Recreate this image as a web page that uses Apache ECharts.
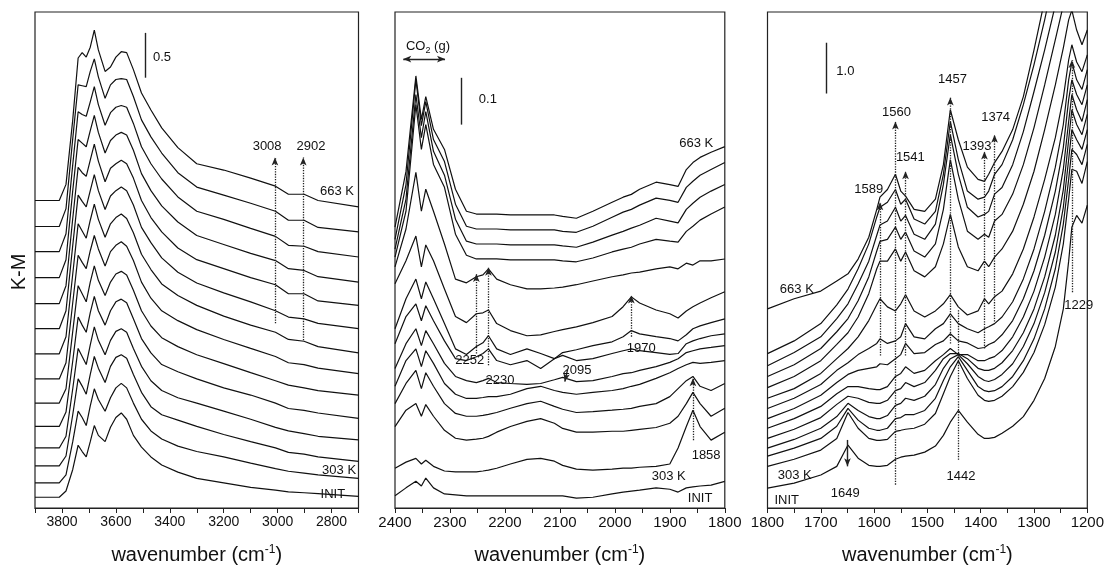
<!DOCTYPE html>
<html>
<head>
<meta charset="utf-8">
<script src="https://cdn.jsdelivr.net/npm/echarts@6/dist/echarts.min.js"></script>
<style>
  html, body { margin: 0; background: #fff; }
  #chart { width: 1107px; height: 570px; }
</style>
</head>
<body>
<div id="chart"></div>
<script>
// spectra run from the initial sample (INIT) up to 663 K
const TEMPS = ['INIT', '303 K', '333 K', '363 K', '393 K', '423 K', '453 K', '483 K', '513 K', '543 K', '573 K', '603 K', '633 K', '663 K'];

// ---- O-H region, K-M values ----
const WN_OH = [3900, 3810, 3785, 3760, 3740, 3725, 3710, 3695, 3680, 3665, 3640, 3620, 3600, 3580, 3560, 3535, 3505, 3470, 3430, 3370, 3300, 3200, 3100, 3008, 2960, 2902, 2850, 2700];
const KM_OH = [
  [0.12, 0.12, 0.19, 0.43, 0.70, 0.63, 0.57, 0.74, 0.92, 0.81, 0.74, 0.90, 1.01, 1.06, 0.99, 0.81, 0.68, 0.57, 0.48, 0.40, 0.33, 0.28, 0.23, 0.20, 0.18, 0.17, 0.16, 0.13],
  [0.28, 0.28, 0.37, 0.74, 1.08, 1.01, 0.92, 1.14, 1.33, 1.21, 1.08, 1.23, 1.34, 1.39, 1.34, 1.17, 0.99, 0.86, 0.77, 0.69, 0.63, 0.57, 0.50, 0.44, 0.41, 0.39, 0.37, 0.33],
  [0.47, 0.47, 0.58, 1.04, 1.44, 1.36, 1.27, 1.49, 1.69, 1.56, 1.40, 1.58, 1.68, 1.71, 1.67, 1.49, 1.29, 1.13, 1.04, 0.98, 0.91, 0.82, 0.74, 0.67, 0.62, 0.60, 0.57, 0.52],
  [0.67, 0.67, 0.80, 1.33, 1.78, 1.69, 1.60, 1.82, 2.02, 1.87, 1.71, 1.87, 1.97, 2.00, 1.96, 1.78, 1.58, 1.42, 1.31, 1.23, 1.17, 1.08, 0.99, 0.90, 0.86, 0.83, 0.80, 0.76],
  [0.91, 0.91, 1.07, 1.64, 2.13, 2.04, 1.96, 2.18, 2.36, 2.20, 2.04, 2.20, 2.30, 2.33, 2.29, 2.11, 1.89, 1.73, 1.60, 1.52, 1.44, 1.34, 1.26, 1.17, 1.11, 1.09, 1.06, 1.00],
  [1.17, 1.17, 1.33, 1.97, 2.48, 2.39, 2.30, 2.52, 2.70, 2.54, 2.37, 2.52, 2.61, 2.64, 2.60, 2.43, 2.20, 2.03, 1.90, 1.80, 1.71, 1.61, 1.51, 1.42, 1.37, 1.34, 1.31, 1.26],
  [1.44, 1.44, 1.62, 2.29, 2.82, 2.74, 2.67, 2.87, 3.04, 2.89, 2.70, 2.86, 2.93, 2.97, 2.92, 2.76, 2.52, 2.34, 2.20, 2.09, 1.99, 1.88, 1.78, 1.69, 1.62, 1.60, 1.56, 1.50],
  [1.72, 1.72, 1.91, 2.61, 3.17, 3.09, 3.01, 3.21, 3.39, 3.22, 3.02, 3.17, 3.24, 3.28, 3.23, 3.07, 2.83, 2.66, 2.50, 2.37, 2.26, 2.14, 2.04, 1.96, 1.88, 1.86, 1.80, 1.73],
  [2.00, 2.00, 2.20, 2.93, 3.49, 3.42, 3.36, 3.54, 3.72, 3.54, 3.33, 3.48, 3.54, 3.58, 3.54, 3.38, 3.13, 2.96, 2.79, 2.63, 2.51, 2.40, 2.30, 2.20, 2.13, 2.11, 2.06, 2.00],
  [2.28, 2.28, 2.48, 3.23, 3.80, 3.74, 3.70, 3.88, 4.06, 3.87, 3.64, 3.79, 3.84, 3.88, 3.84, 3.68, 3.43, 3.24, 3.08, 2.90, 2.77, 2.67, 2.57, 2.49, 2.39, 2.39, 2.31, 2.26],
  [2.57, 2.57, 2.77, 3.54, 4.11, 4.07, 4.03, 4.21, 4.38, 4.19, 3.96, 4.10, 4.16, 4.19, 4.16, 3.99, 3.73, 3.54, 3.37, 3.19, 3.04, 2.94, 2.84, 2.76, 2.67, 2.65, 2.58, 2.52],
  [2.86, 2.86, 3.06, 3.83, 4.42, 4.39, 4.37, 4.53, 4.70, 4.50, 4.27, 4.41, 4.47, 4.49, 4.47, 4.29, 4.03, 3.84, 3.67, 3.47, 3.31, 3.22, 3.12, 3.03, 2.93, 2.92, 2.86, 2.80],
  [3.14, 3.14, 3.34, 4.12, 4.72, 4.71, 4.70, 4.87, 5.01, 4.81, 4.57, 4.72, 4.78, 4.79, 4.78, 4.59, 4.33, 4.14, 3.96, 3.74, 3.58, 3.49, 3.40, 3.31, 3.21, 3.21, 3.13, 3.08],
  [3.43, 3.43, 3.61, 4.33, 5.02, 5.08, 5.03, 5.14, 5.33, 5.11, 4.87, 4.92, 5.03, 5.09, 5.08, 4.89, 4.63, 4.44, 4.24, 4.02, 3.84, 3.77, 3.68, 3.59, 3.50, 3.50, 3.43, 3.36]
];

// ---- CO2 / carbonyl region ----
const WN_CO = [2400, 2380, 2362, 2352, 2344, 2330, 2310, 2290, 2270, 2252, 2240, 2230, 2215, 2190, 2160, 2135, 2110, 2095, 2070, 2040, 2005, 1985, 1970, 1955, 1925, 1900, 1885, 1870, 1858, 1845, 1825, 1800];
const KM_CO = [
  [0.026, 0.043, 0.057, 0.047, 0.064, 0.043, 0.030, 0.028, 0.026, 0.026, 0.026, 0.026, 0.026, 0.026, 0.026, 0.026, 0.026, 0.026, 0.021, 0.023, 0.030, 0.034, 0.036, 0.038, 0.043, 0.040, 0.034, 0.043, 0.045, 0.047, 0.049, 0.057],
  [0.085, 0.098, 0.106, 0.094, 0.102, 0.089, 0.079, 0.077, 0.077, 0.077, 0.079, 0.081, 0.085, 0.094, 0.104, 0.106, 0.100, 0.091, 0.083, 0.081, 0.083, 0.085, 0.085, 0.087, 0.089, 0.094, 0.128, 0.174, 0.209, 0.174, 0.145, 0.162],
  [0.174, 0.209, 0.223, 0.196, 0.221, 0.196, 0.166, 0.149, 0.145, 0.147, 0.149, 0.153, 0.162, 0.174, 0.185, 0.191, 0.181, 0.170, 0.162, 0.162, 0.164, 0.164, 0.166, 0.168, 0.172, 0.181, 0.196, 0.223, 0.247, 0.223, 0.196, 0.213],
  [0.223, 0.266, 0.294, 0.255, 0.289, 0.260, 0.223, 0.202, 0.196, 0.196, 0.198, 0.200, 0.204, 0.213, 0.223, 0.228, 0.217, 0.211, 0.204, 0.206, 0.209, 0.211, 0.213, 0.217, 0.223, 0.238, 0.255, 0.272, 0.281, 0.260, 0.251, 0.266],
  [0.260, 0.315, 0.340, 0.302, 0.336, 0.309, 0.266, 0.243, 0.234, 0.234, 0.236, 0.238, 0.238, 0.243, 0.255, 0.260, 0.251, 0.247, 0.243, 0.247, 0.251, 0.255, 0.260, 0.264, 0.277, 0.289, 0.298, 0.306, 0.311, 0.309, 0.311, 0.315],
  [0.298, 0.351, 0.383, 0.347, 0.379, 0.351, 0.309, 0.281, 0.272, 0.268, 0.272, 0.277, 0.268, 0.266, 0.264, 0.266, 0.274, 0.279, 0.270, 0.272, 0.281, 0.287, 0.289, 0.294, 0.302, 0.311, 0.319, 0.332, 0.336, 0.340, 0.343, 0.347],
  [0.351, 0.409, 0.436, 0.400, 0.432, 0.400, 0.357, 0.319, 0.315, 0.323, 0.330, 0.340, 0.315, 0.306, 0.315, 0.298, 0.319, 0.326, 0.315, 0.319, 0.330, 0.336, 0.340, 0.336, 0.332, 0.328, 0.330, 0.351, 0.357, 0.362, 0.368, 0.372],
  [0.383, 0.447, 0.489, 0.447, 0.483, 0.447, 0.394, 0.340, 0.328, 0.345, 0.353, 0.368, 0.340, 0.328, 0.340, 0.330, 0.319, 0.332, 0.338, 0.347, 0.355, 0.366, 0.379, 0.372, 0.366, 0.362, 0.357, 0.370, 0.383, 0.389, 0.396, 0.404],
  [0.479, 0.528, 0.581, 0.515, 0.562, 0.528, 0.468, 0.409, 0.396, 0.415, 0.417, 0.423, 0.394, 0.379, 0.368, 0.370, 0.377, 0.381, 0.387, 0.396, 0.409, 0.430, 0.451, 0.438, 0.423, 0.415, 0.406, 0.421, 0.430, 0.438, 0.449, 0.462],
  [0.515, 0.596, 0.717, 0.634, 0.681, 0.634, 0.564, 0.489, 0.481, 0.494, 0.498, 0.511, 0.489, 0.477, 0.468, 0.468, 0.470, 0.472, 0.477, 0.485, 0.494, 0.498, 0.502, 0.504, 0.511, 0.515, 0.511, 0.523, 0.519, 0.528, 0.528, 0.532],
  [0.536, 0.634, 0.862, 0.766, 0.819, 0.734, 0.685, 0.585, 0.540, 0.532, 0.532, 0.532, 0.532, 0.530, 0.530, 0.530, 0.530, 0.528, 0.526, 0.534, 0.547, 0.553, 0.557, 0.564, 0.574, 0.570, 0.568, 0.591, 0.602, 0.615, 0.628, 0.643],
  [0.553, 0.660, 0.883, 0.791, 0.847, 0.762, 0.711, 0.617, 0.570, 0.564, 0.564, 0.564, 0.564, 0.562, 0.562, 0.562, 0.562, 0.560, 0.557, 0.568, 0.583, 0.591, 0.598, 0.604, 0.619, 0.613, 0.609, 0.638, 0.651, 0.664, 0.677, 0.691],
  [0.574, 0.691, 0.915, 0.817, 0.868, 0.787, 0.740, 0.649, 0.602, 0.596, 0.596, 0.596, 0.596, 0.594, 0.594, 0.594, 0.594, 0.591, 0.589, 0.602, 0.621, 0.632, 0.638, 0.647, 0.662, 0.657, 0.653, 0.685, 0.698, 0.711, 0.723, 0.738],
  [0.600, 0.719, 0.923, 0.830, 0.879, 0.809, 0.766, 0.681, 0.634, 0.628, 0.628, 0.628, 0.628, 0.626, 0.626, 0.626, 0.626, 0.623, 0.619, 0.634, 0.653, 0.664, 0.670, 0.681, 0.696, 0.691, 0.687, 0.723, 0.738, 0.749, 0.760, 0.772]
];

// ---- carbonate / carboxylate region ----
const WN_CB = [1800, 1750, 1700, 1670, 1649, 1630, 1610, 1595, 1589, 1575, 1560, 1550, 1541, 1525, 1505, 1485, 1470, 1457, 1442, 1425, 1405, 1393, 1385, 1374, 1360, 1340, 1320, 1300, 1280, 1260, 1245, 1235, 1229, 1220, 1210, 1200];
const KM_CB = [
  [0.39, 0.49, 0.65, 0.82, 1.24, 0.98, 0.84, 0.82, 0.82, 0.84, 0.96, 1.00, 1.02, 1.04, 1.10, 1.22, 1.43, 1.69, 1.92, 1.69, 1.45, 1.37, 1.37, 1.39, 1.47, 1.61, 1.80, 2.12, 2.55, 3.18, 3.92, 4.86, 5.53, 5.76, 5.61, 5.96],
  [0.82, 0.96, 1.14, 1.37, 1.88, 1.57, 1.37, 1.33, 1.33, 1.35, 1.51, 1.53, 1.55, 1.57, 1.65, 1.86, 2.25, 2.59, 2.90, 2.55, 2.22, 2.12, 2.10, 2.12, 2.20, 2.39, 2.67, 3.06, 3.61, 4.35, 5.20, 6.08, 6.67, 6.63, 6.39, 6.82],
  [1.02, 1.18, 1.37, 1.61, 1.96, 1.73, 1.57, 1.53, 1.53, 1.57, 1.76, 1.78, 1.84, 1.84, 1.92, 2.16, 2.51, 2.78, 2.98, 2.71, 2.39, 2.31, 2.29, 2.31, 2.39, 2.59, 2.90, 3.33, 3.92, 4.71, 5.59, 6.47, 7.06, 6.96, 6.76, 7.16],
  [1.18, 1.35, 1.57, 1.80, 2.06, 1.92, 1.80, 1.76, 1.76, 1.82, 2.02, 2.06, 2.16, 2.12, 2.20, 2.43, 2.75, 2.94, 3.02, 2.84, 2.59, 2.51, 2.49, 2.53, 2.63, 2.84, 3.18, 3.63, 4.24, 5.04, 5.92, 6.86, 7.45, 7.25, 7.06, 7.45],
  [1.37, 1.55, 1.78, 2.04, 2.20, 2.16, 2.08, 2.06, 2.06, 2.12, 2.31, 2.35, 2.47, 2.39, 2.47, 2.71, 2.94, 3.04, 3.04, 2.94, 2.75, 2.71, 2.71, 2.75, 2.86, 3.10, 3.45, 3.92, 4.55, 5.37, 6.27, 7.25, 7.84, 7.55, 7.35, 7.75],
  [1.57, 1.76, 2.00, 2.25, 2.39, 2.39, 2.35, 2.33, 2.33, 2.39, 2.59, 2.65, 2.78, 2.65, 2.71, 2.90, 3.02, 3.14, 3.02, 3.02, 2.90, 2.90, 2.94, 2.98, 3.10, 3.37, 3.76, 4.27, 4.94, 5.78, 6.67, 7.61, 8.14, 7.84, 7.61, 8.04],
  [1.76, 1.96, 2.22, 2.47, 2.63, 2.71, 2.75, 2.78, 2.84, 2.82, 2.94, 3.02, 3.24, 3.04, 3.06, 3.22, 3.29, 3.43, 3.29, 3.25, 3.14, 3.16, 3.22, 3.27, 3.41, 3.69, 4.12, 4.67, 5.37, 6.24, 7.10, 8.04, 8.43, 8.14, 7.94, 8.33],
  [1.96, 2.16, 2.43, 2.71, 2.86, 3.02, 3.14, 3.24, 3.33, 3.24, 3.29, 3.37, 3.63, 3.37, 3.33, 3.53, 3.63, 3.82, 3.63, 3.53, 3.45, 3.53, 3.57, 3.63, 3.76, 4.06, 4.51, 5.10, 5.84, 6.71, 7.55, 8.43, 8.78, 8.43, 8.24, 8.63],
  [2.16, 2.35, 2.65, 2.94, 3.14, 3.37, 3.69, 4.00, 4.12, 3.96, 3.88, 4.02, 4.20, 3.88, 3.76, 3.88, 4.02, 4.20, 3.96, 3.80, 3.88, 4.12, 4.02, 4.16, 4.27, 4.61, 5.10, 5.73, 6.47, 7.29, 8.08, 8.82, 9.12, 8.78, 8.59, 8.92],
  [2.37, 2.59, 2.90, 3.22, 3.45, 3.76, 4.22, 4.71, 4.86, 4.86, 5.10, 4.86, 5.04, 4.67, 4.55, 4.75, 5.20, 5.78, 5.14, 4.75, 4.67, 4.86, 4.75, 4.94, 5.10, 5.45, 5.98, 6.63, 7.45, 8.33, 9.06, 9.61, 9.80, 9.41, 9.12, 9.41],
  [2.59, 2.82, 3.14, 3.47, 3.73, 4.08, 4.55, 5.06, 5.25, 5.29, 5.53, 5.29, 5.43, 5.06, 4.94, 5.20, 5.88, 6.86, 6.08, 5.45, 5.29, 5.39, 5.33, 5.65, 5.78, 6.18, 6.76, 7.49, 8.33, 9.22, 9.90, 10.39, 10.59, 10.20, 9.90, 10.10],
  [2.80, 3.06, 3.37, 3.73, 4.02, 4.41, 4.86, 5.37, 5.57, 5.65, 5.92, 5.65, 5.76, 5.39, 5.29, 5.59, 6.37, 7.35, 6.57, 5.92, 5.73, 5.78, 5.84, 6.18, 6.31, 6.76, 7.41, 8.20, 9.02, 9.90, 10.59, 10.98, 11.18, 10.98, 10.78, 10.98],
  [3.04, 3.29, 3.63, 4.00, 4.31, 4.71, 5.20, 5.73, 5.92, 6.02, 6.27, 5.98, 6.08, 5.69, 5.59, 5.84, 6.57, 7.61, 6.86, 6.24, 6.08, 6.12, 6.24, 6.57, 6.76, 7.25, 7.94, 8.73, 9.61, 10.59, 11.18, 11.57, 11.76, 11.57, 11.37, 11.57],
  [3.92, 4.12, 4.27, 4.47, 4.61, 4.90, 5.33, 5.88, 6.12, 6.27, 6.57, 6.24, 6.14, 5.88, 5.84, 6.08, 6.76, 7.84, 7.25, 6.71, 6.47, 6.43, 6.57, 6.80, 7.02, 7.45, 8.10, 9.02, 10.00, 10.98, 11.57, 11.96, 12.16, 11.96, 11.76, 11.96]
];

// annotations: [text, wavenumber, K-M]
const NOTES_OH = [['3008', 3039, 4.03], ['2902', 2876, 4.03], ['663 K', 2780, 3.53], ['303 K', 2772, 0.42], ['INIT', 2795, 0.15], ['0.5', 3429, 5.03]];
const NOTES_CO = [['CO{s|2} (g)', 2340, 0.986], ['0.1', 2231, 0.872], ['663 K', 1852, 0.778], ['2252', 2264, 0.316], ['2230', 2209, 0.273], ['2095', 2069, 0.294], ['1970', 1952, 0.340], ['1858', 1834, 0.113], ['303 K', 1902, 0.068], ['INIT', 1845, 0.020]];
const NOTES_CB = [['1.0', 1654, 8.59], ['1457', 1453, 8.43], ['1560', 1558, 7.78], ['1541', 1532, 6.90], ['1589', 1610, 6.27], ['1393', 1407, 7.12], ['1374', 1372, 7.69], ['1229', 1216, 3.99], ['1442', 1437, 0.63], ['1649', 1654, 0.29], ['663 K', 1745, 4.31], ['303 K', 1749, 0.65], ['INIT', 1764, 0.14]];
// dotted band markers: [wavenumber, from, to] with arrow head at 'to'
const MARKS_OH = [[3010, 2.06, 3.91], [2905, 1.87, 3.91]];
const MARKS_CO = [[2252, 0.330, 0.500], [2230, 0.305, 0.513], [1970, 0.366, 0.454], [1858, 0.145, 0.277]];
const MARKS_CB = [[1560, 0.46, 7.61], [1541, 3.0, 6.63], [1589, 3.0, 6.02], [1457, 3.24, 8.08], [1393, 3.14, 7.02], [1374, 3.67, 7.35], [1229, 4.25, 8.82]];
// scale bars: [wavenumber, from, to]
const BARS = [[3492, 4.80, 5.30], [2280, 0.819, 0.919], [1690, 8.16, 9.16]];

const FONT = '"Liberation Sans", Arial, Helvetica, sans-serif';
const INK = '#111';

const chart = echarts.init(document.getElementById('chart'));

const grids = [
  { left: 35, top: 12, width: 323.5, height: 498 },
  { left: 395, top: 12, width: 329.8, height: 498 },
  { left: 767.5, top: 12, width: 323, height: 498 }
].map(g => ({ ...g, show: true, borderColor: '#222', borderWidth: 1.2 }));

function xAxis(i, min, max, step, labelStep, fontSize) {
  return {
    type: 'value', gridIndex: i, min, max, interval: step, inverse: true,
    name: 'wavenumber (cm{sup|-1})', nameLocation: 'middle', nameGap: 36,
    nameTextStyle: { fontSize: 20, color: INK, fontFamily: FONT, rich: { sup: { fontSize: 12, padding: [0, 0, 10, 0], color: INK, fontFamily: FONT } } },
    axisLine: { onZero: false, lineStyle: { color: '#222', width: 1.2 } },
    axisTick: { length: 5, lineStyle: { color: '#222' } },
    axisLabel: { fontSize, color: INK, fontFamily: FONT, margin: 7, showMinLabel: true, showMaxLabel: true,
      formatter: v => (v % labelStep === 0 ? String(v) : '') },
    splitLine: { show: false }
  };
}

function yAxis(i, max) {
  return {
    type: 'value', gridIndex: i, min: 0, max,
    name: i === 0 ? 'K-M' : '', nameLocation: 'middle', nameGap: 6, nameRotate: 90,
    nameTextStyle: { fontSize: 20, color: INK, fontFamily: FONT, padding: [0, 24, 0, 0] },
    axisLine: { show: false }, axisTick: { show: false }, axisLabel: { show: false }, splitLine: { show: false }
  };
}

const dotted = { type: 'dotted', width: 1.3, color: '#222' };
const solid = { type: 'solid', width: 1.4, color: '#222' };

function arrowLine(x, y1, y2, style, head) {
  return [
    { coord: [x, y1], symbol: 'none', lineStyle: style },
    { coord: [x, y2], symbol: head ? 'arrow' : 'none', symbolSize: [5, 8] }
  ];
}

function annotations(p, notes, marks, extraLines) {
  const lines = marks.map(m => arrowLine(m[0], m[1], m[2], dotted, true));
  const b = BARS[p];
  lines.push(arrowLine(b[0], b[1], b[2], solid, false));
  return {
    markLine: { silent: true, animation: false, symbol: 'none', label: { show: false }, data: lines.concat(extraLines) },
    markPoint: {
      silent: true, animation: false, symbol: 'circle', symbolSize: 0,
      itemStyle: { color: 'rgba(0,0,0,0)' },
      label: { show: true, position: 'inside', color: INK, fontSize: 13, fontFamily: FONT,
        rich: { s: { fontSize: 9, padding: [8, 0, 0, 0], color: INK, fontFamily: FONT } } },
      data: notes.map(n => ({ coord: [n[1], n[2]], value: 0, label: { formatter: n[0] } }))
    }
  };
}

const panels = [
  { wn: WN_OH, km: KM_OH, notes: NOTES_OH, marks: MARKS_OH, extra: [] },
  { wn: WN_CO, km: KM_CO, notes: NOTES_CO, marks: MARKS_CO, extra: [
      [{ coord: [2385, 0.959], symbol: 'arrow', symbolSize: [5, 8], lineStyle: solid }, { coord: [2309, 0.959], symbol: 'arrow', symbolSize: [5, 8] }],
      [{ coord: [2086, 0.296], symbol: 'none', lineStyle: solid }, { coord: [2091, 0.270], symbol: 'arrow', symbolSize: [5, 8] }]
    ] },
  { wn: WN_CB, km: KM_CB, notes: NOTES_CB, marks: MARKS_CB, extra: [
      arrowLine(1442, 0.95, 3.9, dotted, false),
      [{ coord: [1650, 1.34], symbol: 'none', lineStyle: solid }, { coord: [1650, 0.82], symbol: 'arrow', symbolSize: [5, 8] }]
    ] }
];

const series = [];
panels.forEach((pn, p) => {
  pn.km.forEach((row, i) => {
    const s = {
      type: 'line', name: TEMPS[i], xAxisIndex: p, yAxisIndex: p,
      data: pn.wn.map((w, k) => [w, row[k]]),
      symbol: 'none', silent: true, animation: false, clip: true,
      lineStyle: { color: INK, width: 1.2 }
    };
    if (i === 0) Object.assign(s, annotations(p, pn.notes, pn.marks, pn.extra));
    series.push(s);
  });
});

chart.setOption({
  backgroundColor: '#fff',
  animation: false,
  grid: grids,
  xAxis: [
    xAxis(0, 2700, 3900, 100, 200, 14),
    xAxis(1, 1800, 2400, 50, 100, 15),
    xAxis(2, 1200, 1800, 50, 100, 15)
  ],
  yAxis: [yAxis(0, 5.533), yAxis(1, 1.0596), yAxis(2, 9.765)],
  series
});
</script>
</body>
</html>
